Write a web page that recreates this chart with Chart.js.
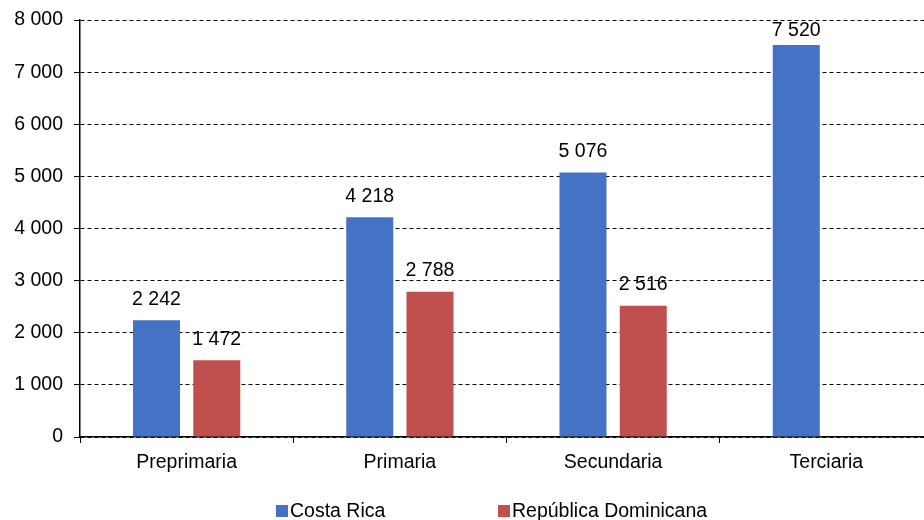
<!DOCTYPE html>
<html>
<head>
<meta charset="utf-8">
<script src="https://cdn.jsdelivr.net/npm/chart.js@4"></script>
<style>
    html, body { margin: 0; padding: 0; background: #fff; overflow: hidden; }
    #wrap { position: relative; width: 933px; height: 520px; }
</style>
</head>
<body>
<div id="wrap"><canvas id="graph"></canvas></div>
<script>
// Chart data
const categories = ["Preprimaria", "Primaria", "Secundaria", "Terciaria"];
const costaRica = [2242, 4218, 5076, 7520];
const dominicana = [1472, 2788, 2516, null];
const seriesNames = ["Costa Rica", "República Dominicana"];
const yTicks = [0, 1000, 2000, 3000, 4000, 5000, 6000, 7000, 8000];

const blue = "#4472C4", red = "#C0504D";
const font = { family: "'Liberation Sans', Arial, sans-serif", size: 19.5 };

// Thousands with a space, like the original
const fmt = (n) => String(n).replace(/\B(?=(\d{3})+(?!\d))/g, " ");

// Value labels above each bar
const valueLabels = {
    id: "valueLabels",
    afterDatasetsDraw(chart) {
        const ctx = chart.ctx;
        ctx.save();
        ctx.font = `${font.size}px ${font.family}`;
        ctx.fillStyle = "#000";
        ctx.textAlign = "center";
        ctx.textBaseline = "middle";
        chart.data.datasets.forEach((ds, i) => {
            chart.getDatasetMeta(i).data.forEach((bar, j) => {
                if (ds.data[j] == null) return;
                const y = Math.max(bar.y - 21, chart.chartArea.top + 11);
                ctx.fillText(fmt(ds.data[j]), bar.x, y);
            });
        });
        ctx.restore();
    }
};

// Legend along the bottom, spaced out like the original
const bottomLegend = {
    id: "bottomLegend",
    afterDraw(chart) {
        const ctx = chart.ctx;
        ctx.save();
        ctx.font = `${font.size}px ${font.family}`;
        ctx.textBaseline = "middle";
        chart.data.datasets.forEach((ds, i) => {
            const x = 276 + i * 222, y = 511;
            ctx.fillStyle = ds.backgroundColor;
            ctx.fillRect(x, y - 6, 12, 12);
            ctx.fillStyle = "#000";
            ctx.fillText(ds.label, x + 14, y + 1);
        });
        ctx.restore();
    }
};

new Chart(document.getElementById("graph"), {
    type: "bar",
    data: {
        labels: categories,
        datasets: [
            { label: seriesNames[0], data: costaRica, backgroundColor: blue },
            { label: seriesNames[1], data: dominicana, backgroundColor: red }
        ]
    },
    options: {
        responsive: true,
        maintainAspectRatio: false,
        animation: false,
        layout: { padding: { top: 20, right: 0, bottom: 0, left: 0 } },
        datasets: { bar: { categoryPercentage: 0.565, barPercentage: 0.78 } },
        plugins: {
            legend: { display: false },
            tooltip: { enabled: false }
        },
        scales: {
            x: {
                grid: { drawOnChartArea: false, color: "#000", tickLength: 6 },
                border: { color: "#000", width: 1.5 },
                ticks: { color: "#000", font: font, padding: 8 },
                afterFit: (s) => { s.height = 83; }
            },
            y: {
                min: 0,
                max: 8000,
                afterBuildTicks: (s) => { s.ticks = yTicks.map(v => ({ value: v })); },
                grid: { color: "#000", tickLength: 6, tickBorderDash: [] },
                border: { color: "#000", width: 1.5, dash: [4, 3] },
                ticks: { color: "#000", font: font, padding: 11, callback: v => fmt(v) },
                afterFit: (s) => { s.width = 80; s.paddingTop = 0; s.paddingBottom = 0; }
            }
        }
    },
    plugins: [valueLabels, bottomLegend]
});
</script>
</body>
</html>
